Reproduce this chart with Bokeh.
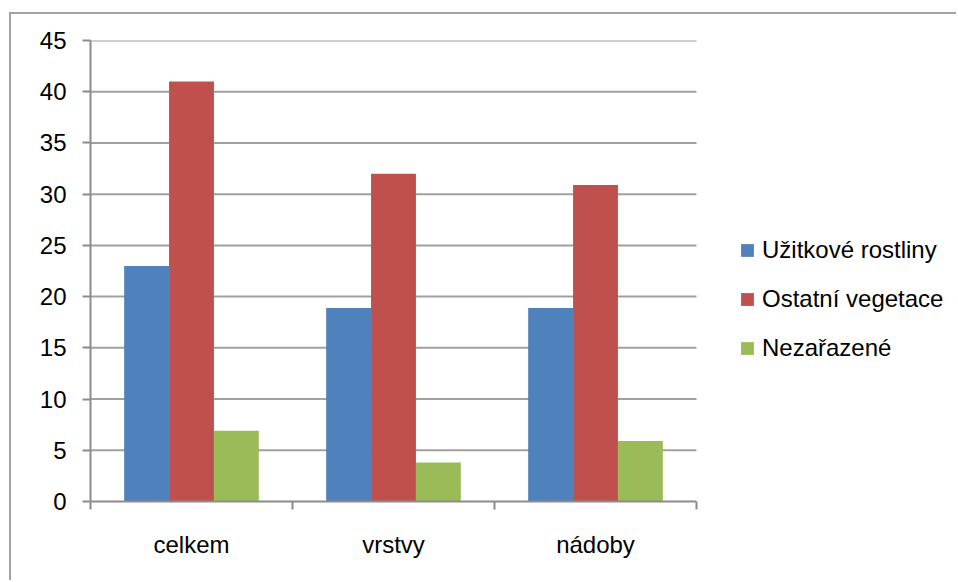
from bokeh.plotting import figure
from bokeh.models import Range1d, FixedTicker, Legend, LegendItem
from bokeh.embed import file_html
from bokeh.resources import INLINE

categories = ["celkem", "vrstvy", "nádoby"]
series_names = ["Užitkové rostliny", "Ostatní vegetace", "Nezařazené"]
uzitkove = [23, 18.9, 18.9]
ostatni = [41, 32, 30.9]
nezarazene = [6.9, 3.8, 5.9]
y_ticks = [0, 5, 10, 15, 20, 25, 30, 35, 40, 45]
colors = ["#4F81BD", "#C0504D", "#9BBB59"]

FONT = "Liberation Sans"
FS = "24px"

ncat = len(categories)
# frame spans the whole right side; the category area takes 606 of 868 px
x_end = ncat * 868 / 606

p = figure(width=947, height=568, x_range=Range1d(0, x_end), y_range=Range1d(0, 45),
           output_backend="svg", toolbar_location=None,
           min_border_left=79, min_border_right=0, min_border_top=26, min_border_bottom=81)
p.styles = {"margin-left": "9px", "margin-top": "12px",
            "border-left": "2px solid #a3a3a3", "border-top": "2px solid #a3a3a3"}
p.outline_line_color = None
p.background_fill_color = "white"
p.border_fill_color = "white"

# horizontal gridlines limited to the category area
grid_y = y_ticks[1:]
p.segment(x0=[0] * len(grid_y), x1=[ncat] * len(grid_y), y0=grid_y, y1=grid_y,
          line_color="#a0a0a0", line_width=2)

series = [uzitkove, ostatni, nezarazene]
bw = 2 / 9
offsets = [-bw, 0, bw]
renderers = []
for vals, off, col in zip(series, offsets, colors):
    xs = [i + 0.5 + off for i in range(ncat)]
    r = p.vbar(x=xs, top=vals, width=bw, bottom=0, fill_color=col, line_color=None)
    renderers.append(r)

# y axis
p.yaxis.ticker = FixedTicker(ticks=y_ticks)
p.yaxis.axis_line_color = "#8c8c8c"
p.yaxis.axis_line_width = 2
p.yaxis.major_tick_line_color = "#8c8c8c"
p.yaxis.major_tick_line_width = 2
p.yaxis.major_tick_out = 8
p.yaxis.major_tick_in = 0
p.yaxis.minor_tick_line_color = None
p.yaxis.major_label_standoff = 16
p.yaxis.major_label_text_font = FONT
p.yaxis.major_label_text_font_size = FS
p.yaxis.major_label_text_color = "black"

# x axis: labels at centers, ticks at boundaries (minor)
centers = [i + 0.5 for i in range(ncat)]
bounds = [i for i in range(ncat + 1)]
p.xaxis.ticker = FixedTicker(ticks=centers, minor_ticks=bounds)
p.xaxis.bounds = (0, ncat)
p.xaxis.major_label_overrides = {c: lab for c, lab in zip(centers, categories)}
p.xaxis.axis_line_color = "#8c8c8c"
p.xaxis.axis_line_width = 2
p.xaxis.major_tick_line_color = None
p.xaxis.major_tick_out = 0
p.xaxis.major_tick_in = 0
p.xaxis.minor_tick_line_color = "#8c8c8c"
p.xaxis.minor_tick_line_width = 2
p.xaxis.minor_tick_out = 8
p.xaxis.minor_tick_in = 0
p.xaxis.major_label_standoff = 21
p.xaxis.major_label_text_font = FONT
p.xaxis.major_label_text_font_size = FS
p.xaxis.major_label_text_color = "black"

p.xgrid.grid_line_color = None
p.ygrid.grid_line_color = None

legend = Legend(items=[LegendItem(label=n, renderers=[r]) for n, r in zip(series_names, renderers)],
                location=(649, 139))
legend.label_text_font = FONT
legend.label_text_font_size = FS
legend.label_text_color = "black"
legend.glyph_width = 16
legend.glyph_height = 16
legend.label_standoff = 7
legend.spacing = 21
legend.padding = 0
legend.margin = 0
legend.border_line_color = None
legend.background_fill_alpha = 0
p.add_layout(legend, "center")

open("out.html", "w").write(file_html(p, INLINE))
